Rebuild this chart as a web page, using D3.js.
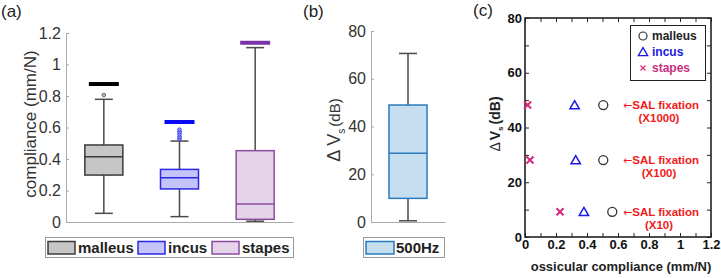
<!DOCTYPE html>
<html>
<head>
<meta charset="utf-8">
<script src="https://cdn.jsdelivr.net/npm/d3@7"></script>
<style>
  body { margin: 0; background: #fff; }
  svg { display: block; font-family: "Liberation Sans", Arial, sans-serif; }
</style>
</head>
<body>
<script>
// ---- data ----
var bones = ["malleus", "incus", "stapes"]
var whiskerLow = [0.055, 0.034, 0.005]
var quart1 = [0.298, 0.21, 0.017]
var medians = [0.415, 0.281, 0.114]
var quart3 = [0.489, 0.334, 0.453]
var whiskerHigh = [0.779, 0.514, 1.107]
var outliers = [[0.806], [0.527, 0.541, 0.556, 0.571, 0.586], []]
var outlierBands = [0.876, 0.635, 1.138]
var ticksA = [0, 0.2, 0.4, 0.6, 0.8, 1, 1.2]

var freqs = ["500Hz"]
var dvLow = [0.5]
var dvQ1 = [9.9]
var dvMedian = [28.8]
var dvQ3 = [49]
var dvHigh = [70.6]
var ticksB = [0, 20, 40, 60, 80]

var fixLabels = ["(X1000)", "(X100)", "(X10)"]
var fixDv = [48.2, 28.1, 9.2]
var malleusComp = [0.505, 0.505, 0.563]
var incusComp = [0.32, 0.327, 0.38]
var stapesComp = [0.017, 0.032, 0.226]
var ticksCx = [0, 0.2, 0.4, 0.6, 0.8, 1, 1.2]
var ticksCy = [0, 20, 40, 60, 80]

// ---- styles ----
var boxFill = ["#c6c6c6", "#c4c4fa", "#e5d3e9"]
var boxStroke = ["#3a3a3a", "#2a2ae6", "#8a4c9e"]
var bandColor = ["#000000", "#0a0af2", "#7a34a8"]
var whiskerColor = "#4a4a4a"
var axisGray = "#aaaaaa"
var textGray = "#333333"

var svg = d3.select("body").append("svg")
    .attr("width", 721)
    .attr("height", 278)

function boxPlot(g, x, y, o) {
    var bw = 38, cw = 18
    var cx = x(o.cat)
    g.append("line").attr("x1", cx).attr("x2", cx).attr("y1", y(o.low)).attr("y2", y(o.q1))
        .attr("stroke", whiskerColor).attr("stroke-width", 1.5)
    g.append("line").attr("x1", cx).attr("x2", cx).attr("y1", y(o.q3)).attr("y2", y(o.high))
        .attr("stroke", whiskerColor).attr("stroke-width", 1.5)
    ;[o.low, o.high].forEach(function(v) {
        g.append("line").attr("x1", cx - cw / 2).attr("x2", cx + cw / 2).attr("y1", y(v)).attr("y2", y(v))
            .attr("stroke", whiskerColor).attr("stroke-width", 1.5)
    })
    g.append("rect")
        .attr("x", cx - bw / 2).attr("width", bw)
        .attr("y", y(o.q3)).attr("height", y(o.q1) - y(o.q3))
        .attr("fill", o.fill).attr("stroke", o.stroke).attr("stroke-width", 1.5)
    g.append("line").attr("x1", cx - bw / 2).attr("x2", cx + bw / 2)
        .attr("y1", y(o.med)).attr("y2", y(o.med))
        .attr("stroke", o.stroke).attr("stroke-width", 1.5)
}

// ================= panel (a) =================
var yA = d3.scaleLinear().domain([0, 1.2]).range([222, 33])
var xA = d3.scalePoint().domain(bones).range([66, 293]).padding(0.5)
var gA = svg.append("g")

var axA = gA.append("g").attr("transform", "translate(66,0)")
    .call(d3.axisLeft(yA).tickValues(ticksA).tickFormat(d3.format("~g"))
        .tickSizeInner(-3).tickSizeOuter(0).tickPadding(5))
axA.select(".domain").attr("stroke", axisGray)
axA.selectAll(".tick line").attr("stroke", axisGray)
axA.selectAll(".tick text").attr("fill", textGray).attr("font-size", 16)
    .attr("font-family", "Liberation Sans, Arial, sans-serif")

var axAb = gA.append("g").attr("transform", "translate(0,222)")
    .call(d3.axisBottom(xA).tickValues([]).tickSizeOuter(0))
axAb.select(".domain").attr("stroke", axisGray)

bones.forEach(function(b, i) {
    boxPlot(gA, xA, yA, {
        cat: b, low: whiskerLow[i], q1: quart1[i], med: medians[i], q3: quart3[i], high: whiskerHigh[i],
        fill: boxFill[i], stroke: boxStroke[i]
    })
    gA.append("line")
        .attr("x1", xA(b) - 15).attr("x2", xA(b) + 15)
        .attr("y1", yA(outlierBands[i])).attr("y2", yA(outlierBands[i]))
        .attr("stroke", bandColor[i]).attr("stroke-width", 4)
    gA.selectAll(null).data(outliers[i]).enter().append("circle")
        .attr("cx", xA(b)).attr("cy", function(d) { return yA(d) })
        .attr("r", 1.8)
        .attr("fill", i === 0 ? "#bbbbbb" : "#9a9af8")
        .attr("stroke", i === 0 ? "#666666" : "#3a3ae8").attr("stroke-width", 1)
})

gA.append("text")
    .attr("transform", "translate(36,124) rotate(-90)")
    .attr("text-anchor", "middle")
    .attr("fill", textGray).attr("font-size", 17)
    .text("compliance (mm/N)")

gA.append("text").attr("x", 1).attr("y", 17).attr("font-size", 17).attr("fill", "#222").text("(a)")

// legend (a)
gA.append("rect").attr("x", 45.5).attr("y", 237.5).attr("width", 248).attr("height", 20)
    .attr("fill", "#fff").attr("stroke", "#9a9a9a")
var legX = [48, 138, 212]
bones.forEach(function(b, i) {
    gA.append("rect").attr("x", legX[i]).attr("y", 241.5).attr("width", 27).attr("height", 12.5)
        .attr("fill", boxFill[i]).attr("stroke", boxStroke[i]).attr("stroke-width", 1.5)
    gA.append("text").attr("x", legX[i] + 30).attr("y", 253)
        .attr("font-size", 15).attr("font-weight", "bold").attr("fill", "#222").text(b)
})

// ================= panel (b) =================
var yB = d3.scaleLinear().domain([0, 80]).range([222, 31])
var xB = d3.scalePoint().domain(freqs).range([371, 445]).padding(0.5)
var gB = svg.append("g")

var axB = gB.append("g").attr("transform", "translate(371,0)")
    .call(d3.axisLeft(yB).tickValues(ticksB).tickSizeInner(-3).tickSizeOuter(0).tickPadding(5))
axB.select(".domain").attr("stroke", axisGray)
axB.selectAll(".tick line").attr("stroke", axisGray)
axB.selectAll(".tick text").attr("fill", textGray).attr("font-size", 16)
    .attr("font-family", "Liberation Sans, Arial, sans-serif")
var axBb = gB.append("g").attr("transform", "translate(0,222)")
    .call(d3.axisBottom(xB).tickValues([]).tickSizeOuter(0))
axBb.select(".domain").attr("stroke", axisGray)

freqs.forEach(function(f, i) {
    boxPlot(gB, xB, yB, {
        cat: f, low: dvLow[i], q1: dvQ1[i], med: dvMedian[i], q3: dvQ3[i], high: dvHigh[i],
        fill: "#c5dff1", stroke: "#2a7bbd"
    })
})

var lbB = gB.append("text")
    .attr("transform", "translate(340,130) rotate(-90)")
    .attr("text-anchor", "middle").attr("fill", textGray)
lbB.append("tspan").attr("font-size", 18).text("Δ V")
lbB.append("tspan").attr("font-size", 10).attr("dy", 5).text("s")
lbB.append("tspan").attr("font-size", 15).attr("dy", -5).attr("dx", 2).text("(dB)")

gB.append("text").attr("x", 303).attr("y", 17).attr("font-size", 17).attr("fill", "#222").text("(b)")

gB.append("rect").attr("x", 363.5).attr("y", 237.5).attr("width", 81).attr("height", 20)
    .attr("fill", "#fff").attr("stroke", "#9a9a9a")
gB.append("rect").attr("x", 366).attr("y", 241.5).attr("width", 28).attr("height", 12.5)
    .attr("fill", "#c5dff1").attr("stroke", "#2a7bbd").attr("stroke-width", 1.5)
gB.append("text").attr("x", 396).attr("y", 253)
    .attr("font-size", 15).attr("font-weight", "bold").attr("fill", "#222").text(freqs[0])

// ================= panel (c) =================
var xC = d3.scaleLinear().domain([0, 1.2]).range([525, 711])
var yC = d3.scaleLinear().domain([0, 80]).range([237, 18])
var gC = svg.append("g")

var minorX = d3.range(0, 13).map(function(k) { return k / 10 })
var minorY = d3.range(0, 9).map(function(k) { return k * 10 })

function styleC(ax) {
    ax.select(".domain").remove()
    ax.selectAll(".tick line").attr("stroke", "#222").attr("stroke-width", 1)
    ax.selectAll(".tick text").attr("fill", "#111").attr("font-size", 13).attr("font-weight", "bold")
        .attr("font-family", "Liberation Sans, Arial, sans-serif")
}
// tick marks (inward, all four sides)
styleC(gC.append("g").attr("transform", "translate(0,237)")
    .call(d3.axisBottom(xC).tickValues(minorX).tickFormat("").tickSize(-4)))
styleC(gC.append("g").attr("transform", "translate(0,18)")
    .call(d3.axisTop(xC).tickValues(minorX).tickFormat("").tickSize(-4)))
styleC(gC.append("g").attr("transform", "translate(525,0)")
    .call(d3.axisLeft(yC).tickValues(minorY).tickFormat("").tickSize(-4)))
styleC(gC.append("g").attr("transform", "translate(711,0)")
    .call(d3.axisRight(yC).tickValues(minorY).tickFormat("").tickSize(-4)))
// labels
var lx = gC.append("g").attr("transform", "translate(0,237)")
    .call(d3.axisBottom(xC).tickValues(ticksCx).tickFormat(d3.format("~g")).tickSize(0).tickPadding(3))
styleC(lx)
var ly = gC.append("g").attr("transform", "translate(525,0)")
    .call(d3.axisLeft(yC).tickValues(ticksCy).tickSize(0).tickPadding(3))
styleC(ly)

gC.append("rect").attr("x", 525).attr("y", 18).attr("width", 186).attr("height", 219)
    .attr("fill", "none").attr("stroke", "#222").attr("stroke-width", 1.6)

function drawX(g, cx, cy, s, w) {
    g.append("path").attr("d", "M" + (cx - s) + "," + (cy - s) + "L" + (cx + s) + "," + (cy + s) +
        "M" + (cx - s) + "," + (cy + s) + "L" + (cx + s) + "," + (cy - s))
        .attr("stroke", "#d8287e").attr("stroke-width", w).attr("fill", "none")
}
var tri = d3.symbol().type(d3.symbolTriangle).size(38)

fixDv.forEach(function(v, i) {
    gC.append("circle").attr("cx", xC(malleusComp[i])).attr("cy", yC(v)).attr("r", 4.5)
        .attr("fill", "none").attr("stroke", "#333").attr("stroke-width", 1.3)
    gC.append("path").attr("d", tri).attr("transform", "translate(" + xC(incusComp[i]) + "," + (yC(v) + 1) + ")")
        .attr("fill", "none").attr("stroke", "#1a1ae6").attr("stroke-width", 1.5)
    drawX(gC, xC(stapesComp[i]), yC(v), 3.5, 2)

    var t = gC.append("text").attr("x", 623).attr("y", yC(v) + 4)
        .attr("fill", "#f01a1a").attr("font-size", 11.5).attr("font-weight", "bold")
    t.append("tspan").attr("font-weight", "normal").attr("font-size", 11)
        .attr("font-family", "DejaVu Sans").text("←")
    t.append("tspan").text("SAL fixation")
    gC.append("text").attr("x", 659).attr("y", yC(v) + 17).attr("text-anchor", "middle")
        .attr("fill", "#f01a1a").attr("font-size", 11.5).attr("font-weight", "bold").text(fixLabels[i])
})

// legend (c)
gC.append("rect").attr("x", 630.5).attr("y", 25.5).attr("width", 75).attr("height", 55)
    .attr("fill", "#fff").attr("stroke", "#222").attr("stroke-width", 1)
gC.append("circle").attr("cx", 643).attr("cy", 36).attr("r", 4)
    .attr("fill", "none").attr("stroke", "#333").attr("stroke-width", 1.2)
gC.append("path").attr("d", tri).attr("transform", "translate(643,53)")
    .attr("fill", "none").attr("stroke", "#1a1ae6").attr("stroke-width", 1.3)
drawX(gC, 643, 68, 2.5, 1.2)
var legC = [["malleus", "#222"], ["incus", "#1a1ae6"], ["stapes", "#c8307f"]]
legC.forEach(function(d, i) {
    gC.append("text").attr("x", 652).attr("y", 40 + i * 16)
        .attr("font-size", 12).attr("font-weight", "bold").attr("fill", d[1]).text(d[0])
})

var lbC = gC.append("text")
    .attr("transform", "translate(500,124) rotate(-90)")
    .attr("text-anchor", "middle").attr("fill", "#222").attr("font-size", 14)
lbC.append("tspan").attr("font-weight", "normal").text("Δ")
lbC.append("tspan").attr("font-weight", "bold").attr("dx", 2).text("V")
lbC.append("tspan").attr("font-size", 8).attr("font-weight", "bold").attr("dy", 3).text("s")
lbC.append("tspan").attr("font-weight", "bold").attr("dy", -3).attr("dx", 2).text("(dB)")

gC.append("text").attr("x", 621).attr("y", 271).attr("text-anchor", "middle")
    .attr("font-size", 13).attr("font-weight", "bold").attr("fill", "#222")
    .text("ossicular compliance (mm/N)")

gC.append("text").attr("x", 473).attr("y", 16).attr("font-size", 17).attr("fill", "#222").text("(c)")
</script>
</body>
</html>
